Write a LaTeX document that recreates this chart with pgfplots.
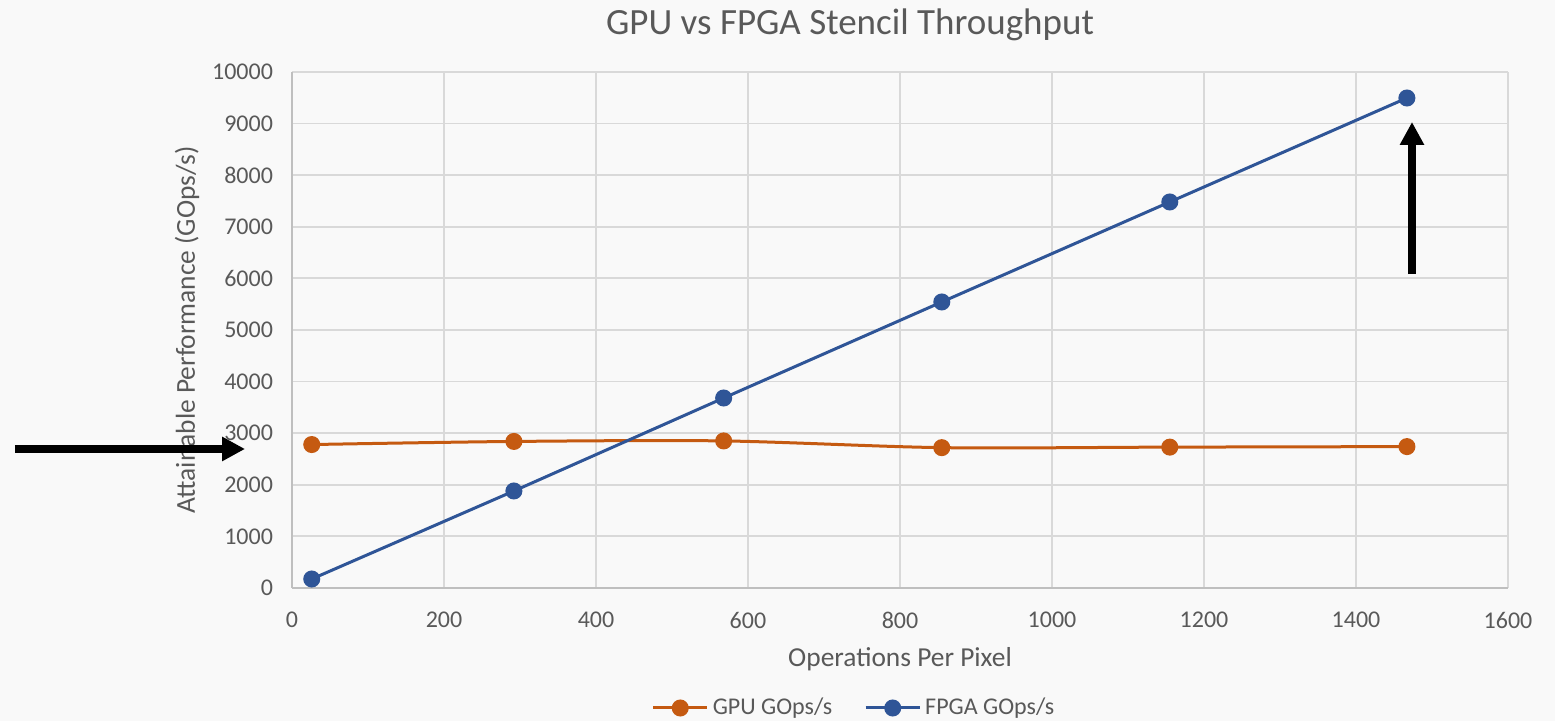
\documentclass[border=0pt]{standalone}
\usepackage{pgfplots}
\pgfplotsset{compat=1.18}
\usepackage{fontspec}
\setmainfont{Carlito}
\usetikzlibrary{arrows.meta}
\definecolor{bg}{HTML}{F9F9F9}
\definecolor{gridc}{HTML}{D9D9D9}
\definecolor{axc}{HTML}{BFBFBF}
\definecolor{txt}{HTML}{595959}
\definecolor{gpu}{HTML}{C55A11}
\definecolor{fpga}{HTML}{2F5597}
\begin{document}
\begin{tikzpicture}
\fill[bg] (-146pt,-66.5pt) rectangle (631.5pt,294pt);
\path[use as bounding box] (-146pt,-66.5pt) rectangle (631.5pt,294pt);
\node[text=txt, font=\fontsize{18.5}{22}\selectfont] at (279pt,281.5pt) {GPU vs FPGA Stencil Throughput};
\node[text=txt, font=\fontsize{13.7}{16}\selectfont] at (304pt,-35.5pt) {Operations Per Pixel};
\node[text=txt, font=\fontsize{13.7}{16}\selectfont, rotate=90] at (-52.5pt,129pt) {Attainable Performance (GOps/s)};
\begin{axis}[
  at={(0,0)}, anchor=south west,
  scale only axis, width=608pt, height=258pt,
  xmin=0, xmax=1600, ymin=0, ymax=10000,
  xtick={0,200,...,1600}, ytick={0,1000,...,10000},
  scaled y ticks=false, scaled x ticks=false,
  grid=major, major grid style={gridc, line width=0.9pt},
  axis x line*=bottom, axis y line*=left,
  axis line style={axc, line width=0.9pt, -},
  major tick length=0pt,
  tick label style={font=\fontsize{12}{14}\selectfont, text=txt},
  /pgf/number format/assume math mode=true,
  /pgf/number format/set thousands separator={},
  xticklabel style={yshift=-8.5pt},
  yticklabel style={xshift=-6pt},
  clip=false,
  legend style={at={(281.5pt,-60pt)}, anchor=center, draw=none, fill=bg,
    font=\fontsize{12}{14}\selectfont, text=txt,
    legend columns=2, /tikz/every even column/.append style={column sep=14pt}},
  legend cell align=left,
  legend image code/.code={\draw[#1, mark=none] (0pt,0pt) -- (27pt,0pt); \fill[#1] (13.5pt,0pt) circle (3.5pt);},
]
\addplot[gpu, line width=1.5pt, smooth, mark=*, mark size=3.5pt, mark options={fill=gpu, draw=gpu}]
  coordinates {(26,2780) (292,2840) (568,2850) (855,2720) (1155,2730) (1467,2740)};
\addlegendentry{GPU GOps/s}
\addplot[fpga, line width=1.5pt, mark=*, mark size=3.5pt, mark options={fill=fpga, draw=fpga}]
  coordinates {(26,174) (292,1880) (568,3682) (855,5543) (1155,7481) (1467,9496)};
\addlegendentry{FPGA GOps/s}
\draw[black, line width=4pt, -{Triangle[length=11.5pt,width=11.5pt]}] (axis cs:-364.5,2694) -- (axis cs:-61.8,2694);
\draw[black, line width=4pt, -{Triangle[length=11.5pt,width=11.5pt]}] (axis cs:1473.7,6085) -- (axis cs:1473.7,9031);
\end{axis}
\end{tikzpicture}
\end{document}
